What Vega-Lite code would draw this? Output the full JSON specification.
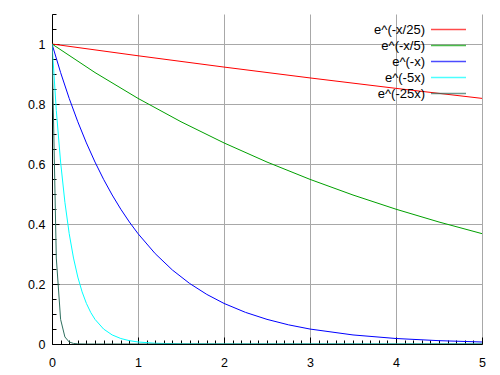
{
  "$schema": "https://vega.github.io/schema/vega-lite/v6.json",
  "width": 430,
  "height": 330,
  "autosize": {"type": "none"},
  "padding": {"left": 52, "top": 14, "right": 18, "bottom": 31},
  "background": "white",
  "config": {
    "view": {"stroke": null},
    "font": "Liberation Sans",
    "axis": {"labelFont": "Liberation Sans", "labelFontSize": 12.5, "labelColor": "#000000", "labelFlush": false}
  },
  "data": {
    "values": [
      {"f": "e^(-x/25)", "x": 0, "y": 1},
      {"f": "e^(-x/25)", "x": 1, "y": 0.9608},
      {"f": "e^(-x/25)", "x": 2, "y": 0.9231},
      {"f": "e^(-x/25)", "x": 3, "y": 0.8869},
      {"f": "e^(-x/25)", "x": 4, "y": 0.8521},
      {"f": "e^(-x/25)", "x": 5, "y": 0.8187},
      {"f": "e^(-x/5)", "x": 0, "y": 1},
      {"f": "e^(-x/5)", "x": 0.5, "y": 0.9048},
      {"f": "e^(-x/5)", "x": 1, "y": 0.8187},
      {"f": "e^(-x/5)", "x": 1.5, "y": 0.7408},
      {"f": "e^(-x/5)", "x": 2, "y": 0.6703},
      {"f": "e^(-x/5)", "x": 2.5, "y": 0.6065},
      {"f": "e^(-x/5)", "x": 3, "y": 0.5488},
      {"f": "e^(-x/5)", "x": 3.5, "y": 0.4966},
      {"f": "e^(-x/5)", "x": 4, "y": 0.4493},
      {"f": "e^(-x/5)", "x": 4.5, "y": 0.4066},
      {"f": "e^(-x/5)", "x": 5, "y": 0.3679},
      {"f": "e^(-x)", "x": 0, "y": 1},
      {"f": "e^(-x)", "x": 0.1, "y": 0.9048},
      {"f": "e^(-x)", "x": 0.2, "y": 0.8187},
      {"f": "e^(-x)", "x": 0.3, "y": 0.7408},
      {"f": "e^(-x)", "x": 0.4, "y": 0.6703},
      {"f": "e^(-x)", "x": 0.5, "y": 0.6065},
      {"f": "e^(-x)", "x": 0.6, "y": 0.5488},
      {"f": "e^(-x)", "x": 0.7, "y": 0.4966},
      {"f": "e^(-x)", "x": 0.8, "y": 0.4493},
      {"f": "e^(-x)", "x": 0.9, "y": 0.4066},
      {"f": "e^(-x)", "x": 1.0, "y": 0.3679},
      {"f": "e^(-x)", "x": 1.2, "y": 0.3012},
      {"f": "e^(-x)", "x": 1.4, "y": 0.2466},
      {"f": "e^(-x)", "x": 1.6, "y": 0.2019},
      {"f": "e^(-x)", "x": 1.8, "y": 0.1653},
      {"f": "e^(-x)", "x": 2.0, "y": 0.1353},
      {"f": "e^(-x)", "x": 2.25, "y": 0.1054},
      {"f": "e^(-x)", "x": 2.5, "y": 0.0821},
      {"f": "e^(-x)", "x": 2.75, "y": 0.0639},
      {"f": "e^(-x)", "x": 3.0, "y": 0.0498},
      {"f": "e^(-x)", "x": 3.5, "y": 0.0302},
      {"f": "e^(-x)", "x": 4.0, "y": 0.0183},
      {"f": "e^(-x)", "x": 4.5, "y": 0.0111},
      {"f": "e^(-x)", "x": 5.0, "y": 0.0067},
      {"f": "e^(-5x)", "x": 0, "y": 1},
      {"f": "e^(-5x)", "x": 0.05, "y": 0.7788},
      {"f": "e^(-5x)", "x": 0.1, "y": 0.6065},
      {"f": "e^(-5x)", "x": 0.15, "y": 0.4724},
      {"f": "e^(-5x)", "x": 0.2, "y": 0.3679},
      {"f": "e^(-5x)", "x": 0.25, "y": 0.2865},
      {"f": "e^(-5x)", "x": 0.3, "y": 0.2231},
      {"f": "e^(-5x)", "x": 0.35, "y": 0.1738},
      {"f": "e^(-5x)", "x": 0.4, "y": 0.1353},
      {"f": "e^(-5x)", "x": 0.45, "y": 0.1054},
      {"f": "e^(-5x)", "x": 0.5, "y": 0.0821},
      {"f": "e^(-5x)", "x": 0.6, "y": 0.0498},
      {"f": "e^(-5x)", "x": 0.7, "y": 0.0302},
      {"f": "e^(-5x)", "x": 0.8, "y": 0.0183},
      {"f": "e^(-5x)", "x": 0.9, "y": 0.0111},
      {"f": "e^(-5x)", "x": 1.0, "y": 0.0067},
      {"f": "e^(-5x)", "x": 1.2, "y": 0.0025},
      {"f": "e^(-5x)", "x": 1.5, "y": 0.00055},
      {"f": "e^(-5x)", "x": 2.0, "y": 0.00005},
      {"f": "e^(-5x)", "x": 5.0, "y": 0},
      {"f": "e^(-25x)", "x": 0, "y": 1},
      {"f": "e^(-25x)", "x": 0.05, "y": 0.2865},
      {"f": "e^(-25x)", "x": 0.1, "y": 0.0821},
      {"f": "e^(-25x)", "x": 0.15, "y": 0.0235},
      {"f": "e^(-25x)", "x": 0.2, "y": 0.0067},
      {"f": "e^(-25x)", "x": 0.25, "y": 0.0019},
      {"f": "e^(-25x)", "x": 0.3, "y": 0.00055},
      {"f": "e^(-25x)", "x": 0.4, "y": 0.00005},
      {"f": "e^(-25x)", "x": 5.0, "y": 0}
    ]
  },
  "layer": [
    {
      "mark": {"type": "point", "opacity": 0},
      "encoding": {
        "x": {"field": "x", "type": "quantitative", "scale": {"domain": [0, 5], "nice": false, "zero": false},
          "axis": {"orient": "bottom", "values": [0.1,0.2,0.3,0.4,0.5,0.6,0.7,0.8,0.9,1.1,1.2,1.3,1.4,1.5,1.6,1.7,1.8,1.9,2.1,2.2,2.3,2.4,2.5,2.6,2.7,2.8,2.9,3.1,3.2,3.3,3.4,3.5,3.6,3.7,3.8,3.9,4.1,4.2,4.3,4.4,4.5,4.6,4.7,4.8,4.9],
            "labels": false, "domain": false, "grid": false, "tickSize": -4, "tickColor": "#000000", "title": null}},
        "y": {"field": "y", "type": "quantitative", "scale": {"domain": [0, 1.1], "nice": false, "zero": false},
          "axis": {"orient": "left", "values": [0.05,0.1,0.15,0.25,0.3,0.35,0.45,0.5,0.55,0.65,0.7,0.75,0.85,0.9,0.95,1.05,1.1],
            "labels": false, "domain": false, "grid": false, "tickSize": -4, "tickColor": "#000000", "title": null}}
      }
    },
    {
      "mark": {"type": "line", "strokeWidth": 1, "clip": true},
      "encoding": {
        "x": {"field": "x", "type": "quantitative", "scale": {"domain": [0, 5], "nice": false, "zero": false},
          "axis": {"orient": "bottom", "values": [0, 1, 2, 3, 4, 5], "format": "~g", "grid": true, "gridColor": "#a8a8a8", "gridWidth": 1,
            "domainColor": "#000000", "domainWidth": 1, "tickColor": "#000000", "tickSize": -7, "labelPadding": 19, "title": null}},
        "y": {"field": "y", "type": "quantitative", "scale": {"domain": [0, 1.1], "nice": false, "zero": false},
          "axis": {"orient": "left", "values": [0, 0.2, 0.4, 0.6, 0.8, 1], "format": "~g", "grid": true, "gridColor": "#a8a8a8", "gridWidth": 1,
            "domainColor": "#000000", "domainWidth": 1, "tickColor": "#000000", "tickSize": -7, "labelPadding": 14, "title": null}},
        "color": {"field": "f", "type": "nominal",
          "scale": {"domain": ["e^(-x/25)", "e^(-x/5)", "e^(-x)", "e^(-5x)", "e^(-25x)"], "range": ["#ff0000", "#00a000", "#0000ff", "#00ffff", "#2f6f5f"]},
          "legend": {"orient": "none", "legendX": 388.5, "legendY": 7.5, "title": null, "symbolType": "M-2.5,0H2.5", "symbolSize": 196, "symbolStrokeWidth": 1.5,
            "symbolOpacity": 0.7, "rowPadding": 1, "labelAlign": "right", "labelOffset": -31.5, "labelFontSize": 13, "labelFont": "Liberation Sans", "labelColor": "#000000"}}
      }
    }
  ],
  "resolve": {"axis": {"x": "independent", "y": "independent"}}
}
